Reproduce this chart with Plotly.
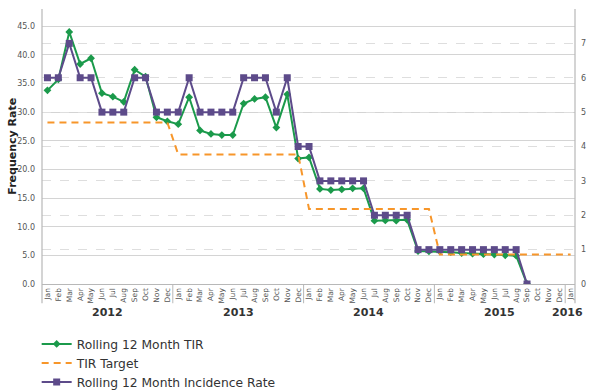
import plotly.graph_objects as go

months = ["Jan", "Feb", "Mar", "Apr", "May", "Jun", "Jul", "Aug", "Sep", "Oct", "Nov", "Dec"]
month_labels = months * 4 + ["Jan"]
years = ["2012", "2013", "2014", "2015", "2016"]

tir = [33.8, 35.7, 44.0, 38.4, 39.4, 33.3, 32.7, 31.8, 37.4, 36.2, 29.1, 28.4,
       27.9, 32.6, 26.8, 26.2, 26.0, 26.0, 31.5, 32.3, 32.6, 27.3, 33.1, 21.9,
       22.1, 16.6, 16.4, 16.5, 16.7, 16.7, 11.05, 11.1, 11.05, 11.2, 5.75, 5.7,
       5.7, 5.55, 5.4, 5.3, 5.2, 5.15, 5.0, 4.95, 0.0]

tir_target = [28.2] * 12 + [22.6] * 12 + [13.1] * 12 + [5.15] * 12 + [5.15]

incidence = [6, 6, 7, 6, 6, 5, 5, 5, 6, 6, 5, 5,
             5, 6, 5, 5, 5, 5, 6, 6, 6, 5, 6, 4,
             4, 3, 3, 3, 3, 3, 2, 2, 2, 2, 1, 1,
             1, 1, 1, 1, 1, 1, 1, 1, 0]

GREEN = "#1b9a4b"
ORANGE = "#f7962a"
PURPLE = "#5d4b8a"
FONT = "DejaVu Sans"

x_all = list(range(len(month_labels)))

fig = go.Figure()
fig.add_trace(go.Scatter(
    x=x_all[:len(tir)], y=tir, name="Rolling 12 Month TIR", mode="lines+markers",
    line=dict(color=GREEN, width=2), marker=dict(symbol="diamond", size=6, color=GREEN),
    yaxis="y"))
fig.add_trace(go.Scatter(
    x=x_all[:len(tir_target)], y=tir_target, name="TIR Target", mode="lines",
    line=dict(color=ORANGE, width=2, dash="7px,5px"), yaxis="y"))
fig.add_trace(go.Scatter(
    x=x_all[:len(incidence)], y=incidence, name="Rolling 12 Month Incidence Rate",
    mode="lines+markers", line=dict(color=PURPLE, width=2),
    marker=dict(symbol="square", size=7, color=PURPLE), yaxis="y2"))

shapes = []
# axis lines extending below the plot
for xp in (0, 1):
    shapes.append(dict(type="line", xref="paper", yref="paper", x0=xp, x1=xp, y0=-0.07, y1=1,
                       line=dict(color="#b8b8b8", width=1.2)))
# year dividers
for xv in (11.5, 23.5, 35.5, 47.5):
    shapes.append(dict(type="line", xref="x", yref="paper", x0=xv, x1=xv, y0=0, y1=-0.07,
                       line=dict(color="#b8b8b8", width=1)))

annotations = []
year_pos = [5.5, 17.5, 29.5, 41.5, 47.7]
for yr, xv in zip(years, year_pos):
    annotations.append(dict(x=xv, y=-0.102, xref="x", yref="paper", text="<b>%s</b>" % yr,
                            showarrow=False, yanchor="middle",
                            font=dict(family=FONT, size=11, color="#333333")))
annotations.append(dict(x=-0.056, y=0.5, xref="paper", yref="paper", text="<b>Frequency Rate</b>",
                        showarrow=False, textangle=-90, xanchor="center", yanchor="middle",
                        font=dict(family=FONT, size=11, color="#222222")))

fig.update_layout(
    width=594, height=390,
    margin=dict(l=42, r=19, t=9, b=106, autoexpand=False),
    paper_bgcolor="white", plot_bgcolor="white",
    font=dict(family=FONT, color="#444444"),
    showlegend=True,
    legend=dict(x=-0.01, y=-0.165, xanchor="left", yanchor="top", orientation="v",
                font=dict(family=FONT, size=12.3, color="#333333"), itemwidth=30,
                tracegroupgap=0, bgcolor="rgba(0,0,0,0)"),
    xaxis=dict(range=[-0.5, 48.4], tickmode="array", tickvals=x_all, ticktext=month_labels,
               tickangle=-90, tickfont=dict(family=FONT, size=7.5, color="#555555"),
               showgrid=False, zeroline=False, showline=True, linecolor="#b8b8b8",
               linewidth=1.2, ticks="", fixedrange=True, automargin=False),
    yaxis=dict(range=[0, 48], tickvals=[0, 5, 10, 15, 20, 25, 30, 35, 40, 45],
               tickformat=".1f", tickfont=dict(family=FONT, size=8, color="#555555"),
               showgrid=True, gridcolor="#d4d4d4", gridwidth=1.2, zeroline=False,
               showline=False, ticks="", ticklabelstandoff=6, automargin=False, fixedrange=True),
    yaxis2=dict(range=[0, 8], overlaying="y", side="right", tickvals=[0, 1, 2, 3, 4, 5, 6, 7],
                tickfont=dict(family=FONT, size=8, color="#555555"),
                showgrid=True, gridcolor="#dedede", griddash="dash", gridwidth=1,
                zeroline=False, showline=False, ticks="", ticklabelstandoff=5, automargin=False,
                fixedrange=True),
    shapes=shapes,
    annotations=annotations,
)

fig.write_html("out.html", config={"displayModeBar": False},
               post_script="document.body.style.margin='0';")
